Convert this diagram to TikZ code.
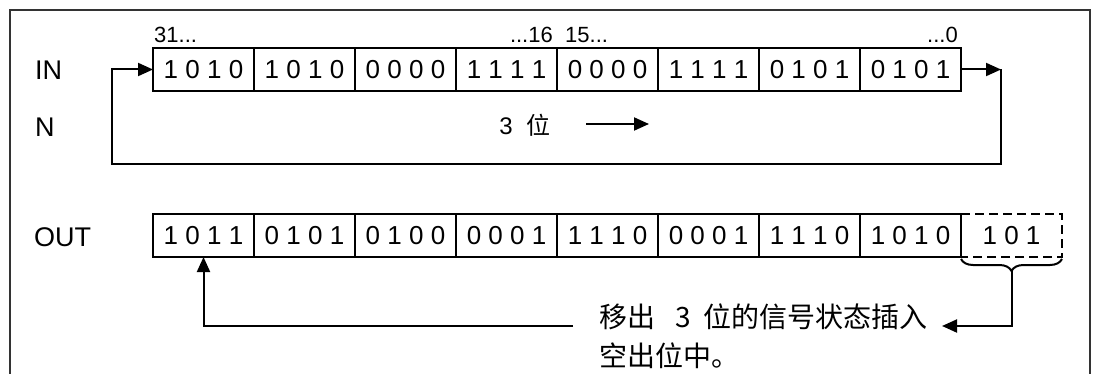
\documentclass[tikz,border=0pt]{standalone}
\usepackage{fontspec}
\setmainfont{Liberation Sans}
\newfontfamily\cjk{Noto Sans CJK SC}
\usetikzlibrary{arrows.meta,decorations.pathreplacing}
\tikzset{
  bit/.style={draw, line width=1.6pt, minimum width=101pt, minimum height=43pt,
    inner sep=0pt, outer sep=0pt, font=\fontsize{26}{32}\selectfont},
  lbl/.style={anchor=west, inner sep=0pt, font=\fontsize{27}{32}\selectfont},
  idx/.style={inner sep=0pt, font=\fontsize{22}{26}\selectfont},
  arr/.style={line width=2pt, -{Triangle[length=15pt,width=13pt]}},
  ln/.style={line width=2pt},
  frame/.style={line width=1.6pt, draw=black!80},
}
\begin{document}
\begin{tikzpicture}[x=1pt,y=-1pt]
\useasboundingbox (0,0) rectangle (1097,374);
\draw[frame] (10,10) rectangle (1090,400);
% labels
\node[lbl] (lin) at (35,70) {IN};
\node[lbl] (ln) at (35,127) {N};
\node[lbl] (lout) at (34,237) {OUT};
% IN row
\foreach \t [count=\i] in {1 0 1 0,1 0 1 0,0 0 0 0,1 1 1 1,0 0 0 0,1 1 1 1,0 1 0 1,0 1 0 1}
  \node[bit] (in\i) at ({153+101*(\i-0.5)},69.5) {\t};
% OUT row
\foreach \t [count=\i] in {1 0 1 1,0 1 0 1,0 1 0 0,0 0 0 1,1 1 1 0,0 0 0 1,1 1 1 0,1 0 1 0}
  \node[bit] (out\i) at ({153+101*(\i-0.5)},235.5) {\t};
\node[bit,draw=none] (dash) at ({153+101*8.5},235.5) {1 0 1};
\draw[line width=1.8pt, dash pattern=on 9pt off 5pt]
  (dash.north west) -- (dash.north east) -- (dash.south east) -- (dash.south west);
% bit indices
\node[idx, anchor=base west] (i31) at (154,43) {31...};
\node[idx, anchor=base east] (i16) at (553,43) {...16};
\node[idx, anchor=base west] (i15) at (565,43) {15...};
\node[idx, anchor=base east] (i0) at (958,43) {...0};
% rotation loop
\coordinate (rc) at (1001,69.5);
\coordinate (rb) at (1001,164);
\coordinate (lb) at (112,164);
\draw[arr] (in8.east) -- (rc);
\draw[arr] (rc) -- (rb) -- (lb) |- (in1.west);
% 3 bits label
\node[inner sep=0pt, font=\fontsize{24}{30}\selectfont] (n3) at (525,125) {3\hspace{14pt}{\cjk 位}};
\coordinate (a1) at (586,124);
\coordinate (a2) at (649,124);
\draw[arr] (a1) -- (a2);
% brace under shifted-out bits
\draw[ln, decorate, decoration={brace, mirror, amplitude=12pt}]
  ([yshift=-2pt]dash.south west) -- ([yshift=-2pt]dash.south east);
\coordinate (bt) at ([yshift=-14pt]dash.south);
\coordinate (tx) at (942,326);
\draw[arr] (bt) |- (tx);
% text
\node[anchor=west, align=left, inner sep=0pt,
  font=\cjk\fontsize{28}{39}\selectfont] (txt) at (599,336)
  {移出\hspace{20pt}3\hspace{13pt}位的信号状态插入\\空出位中。};
\coordinate (la) at (573,326);
\draw[arr] (la) -| (out1.south);
\end{tikzpicture}
\end{document}
